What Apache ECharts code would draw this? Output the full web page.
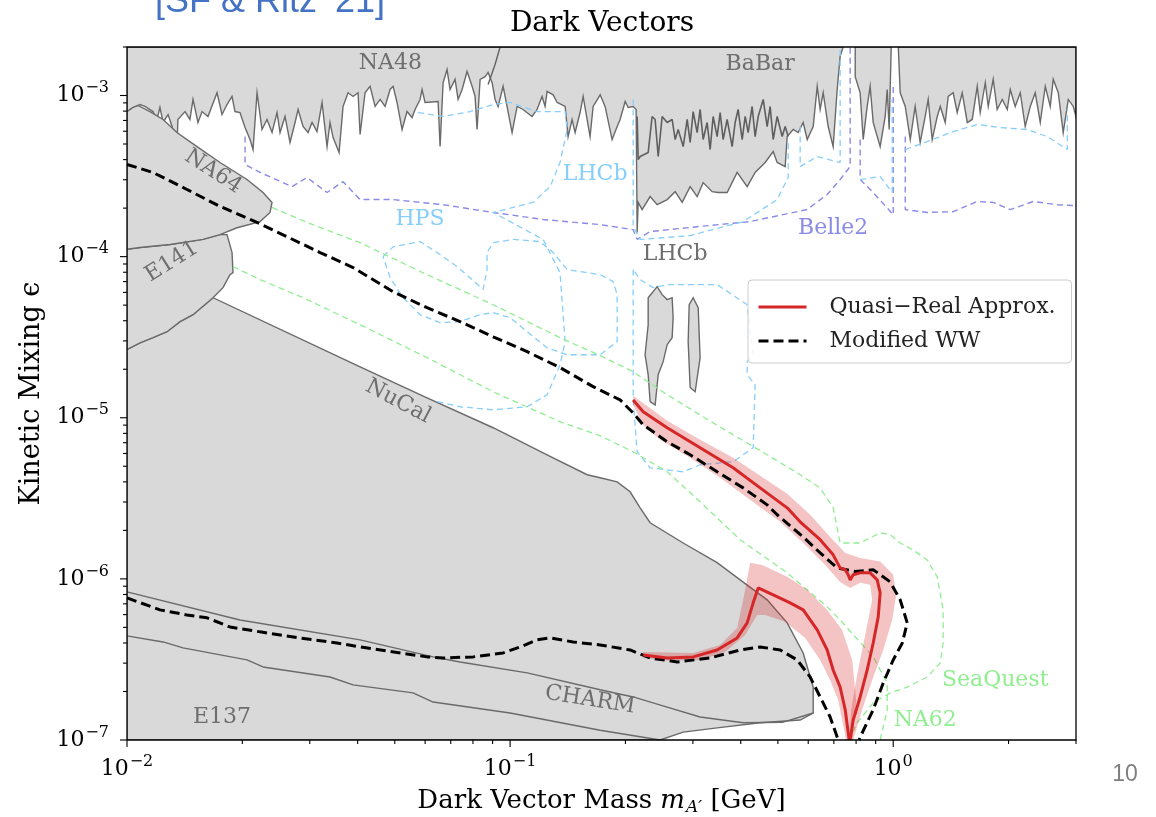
<!DOCTYPE html>
<html lang="en">
<head>
<meta charset="UTF-8">
<title>Dark Vectors</title>
<script src="https://cdn.jsdelivr.net/npm/echarts@6/dist/echarts.min.js"></script>
<style>
html, body { margin: 0; padding: 0; background: #fff; }
#chart { width: 1156px; height: 817px; }
</style>
</head>
<body>
<div id="chart"></div>
<script>
// ---- data: [mass GeV, epsilon] pairs ----
const xRange = [0.01, 3];
const yRange = [1e-7, 2e-3];
const xMajorTicks = [0.01, 0.1, 1];
const xMinorTicks = [0.02, 0.03, 0.04, 0.05, 0.06, 0.07, 0.08, 0.09, 0.2, 0.3, 0.4, 0.5, 0.6, 0.7, 0.8, 0.9, 2, 3];
const yMajorTicks = [1e-7, 1e-6, 1e-5, 1e-4, 1e-3];
const yMinorTicks = [2e-7, 3e-7, 4e-7, 5e-7, 6e-7, 7e-7, 8e-7, 9e-7, 2e-6, 3e-6, 4e-6, 5e-6, 6e-6, 7e-6, 8e-6, 9e-6,
  2e-5, 3e-5, 4e-5, 5e-5, 6e-5, 7e-5, 8e-5, 9e-5, 2e-4, 3e-4, 4e-4, 5e-4, 6e-4, 7e-4, 8e-4, 9e-4, 2e-3];

// NA48 / BaBar / KLOE ... upper excluded band
const topRegionA = [[0.01,2e-3],[0.01,5.56e-4],[0.01018,8.19e-4],[0.01081,8.79e-4],[0.01114,8.55e-4],[0.01169,7.95e-4],[0.01197,7.1e-4],[0.01219,8.43e-4],[0.01242,6.8e-4],[0.0128,7.62e-4],[0.01311,6.42e-4],[0.0135,4.75e-4],[0.01358,7.1e-4],[0.01417,7.95e-4],[0.0146,7.1e-4],[0.01487,9.45e-4],[0.01532,6.8e-4],[0.0157,7.95e-4],[0.01627,7.41e-4],[0.01718,1.04e-3],[0.0177,7.62e-4],[0.01824,8.79e-4],[0.0188,9.86e-4],[0.01914,7.95e-4],[0.01972,7.84e-4],[0.02033,6.33e-4],[0.02095,5.33e-4],[0.02133,4.62e-4],[0.02185,1.04e-3],[0.02251,6.15e-4],[0.0232,7.1e-4],[0.02391,5.89e-4],[0.02464,7.84e-4],[0.02509,5.89e-4],[0.02585,7.41e-4],[0.02664,5.11e-4],[0.02746,6.8e-4],[0.02796,8.19e-4],[0.02881,6.42e-4],[0.02969,5.89e-4],[0.03041,6.8e-4],[0.03133,5.97e-4],[0.03229,9.05e-4],[0.03328,4.82e-4],[0.03388,6.8e-4],[0.03451,5.48e-4],[0.03578,4.43e-4],[0.03664,8.55e-4],[0.03776,1.04e-3],[0.03891,9.86e-4],[0.0401,1.04e-3],[0.04059,5.73e-4],[0.04182,1.04e-3],[0.0431,1.14e-3],[0.04442,8.55e-4],[0.04578,9.45e-4],[0.04717,8.55e-4],[0.04861,1.09e-3],[0.0495,1.14e-3],[0.05068,9.05e-4],[0.05224,6.15e-4],[0.05382,7.95e-4],[0.05547,7.3e-4],[0.05649,8.19e-4],[0.05821,9.45e-4],[0.05891,1.09e-3],[0.05998,9.05e-4],[0.06487,9.18e-4],[0.06565,4.82e-4],[0.06685,1.2e-3],[0.06845,1.45e-3],[0.0697,1.09e-3],[0.07184,1.26e-3],[0.07315,9.45e-4],[0.07494,1.09e-3],[0.0772,1.41e-3],[0.07958,1.14e-3],[0.08102,9.86e-4],[0.08198,6.15e-4],[0.0835,1.26e-3],[0.08604,1.31e-3],[0.08761,1.39e-3],[0.08977,1.2e-3],[0.09138,9.45e-4],[0.09305,8.55e-4],[0.09588,1.14e-3],[0.09818,8.55e-4],[0.1012,5.89e-4],[0.1043,8.55e-4],[0.1081,8.19e-4],[0.1141,7.41e-4],[0.1176,8.19e-4],[0.1212,9.86e-4],[0.1234,8.55e-4],[0.1249,1.06e-3],[0.1295,1.01e-3],[0.1327,9.05e-4],[0.1392,8.55e-4],[0.1417,5.56e-4],[0.1451,7.1e-4],[0.1478,5.89e-4],[0.1523,7.84e-4],[0.1551,9.86e-4],[0.1617,5.56e-4],[0.1647,8.55e-4],[0.1718,1.01e-3],[0.177,8.55e-4],[0.1846,5.33e-4],[0.1903,6.42e-4],[0.1937,7.1e-4],[0.1997,9.18e-4],[0.2033,8.43e-4],[0.2095,8.55e-4],[0.2133,8.19e-4],[0.2146,1.41e-4],[0.2159,2.17e-4],[0.2211,1.96e-4],[0.232,2.36e-4],[0.242,2.1e-4],[0.257,2.26e-4],[0.2697,2.53e-4],[0.2813,2.17e-4],[0.2951,2.72e-4],[0.3078,2.36e-4],[0.3191,2.88e-4],[0.3368,2.53e-4],[0.3492,2.5e-4],[0.3686,2.5e-4],[0.3914,3.33e-4],[0.4157,2.72e-4],[0.4361,3.33e-4],[0.4632,3.84e-4],[0.4861,4.49e-4],[0.4979,3.84e-4],[0.5224,3.62e-4],[0.5287,5.56e-4],[0.5482,6.15e-4],[0.5649,5.89e-4],[0.5821,6.8e-4],[0.5964,5.33e-4],[0.6182,6.42e-4],[0.6333,1.14e-3],[0.6446,8.19e-4],[0.6565,1.04e-3],[0.6765,6.42e-4],[0.697,4.82e-4],[0.7141,1.09e-3],[0.7269,1.75e-3],[0.7402,2e-3]];
const topRegionB = [[0.7958,2e-3],[0.7958,1.31e-3],[0.8198,1.04e-3],[0.835,5.33e-4],[0.8552,8.55e-4],[0.8706,1.14e-3],[0.8866,6.8e-4],[0.9245,4.82e-4],[0.953,7.41e-4],[0.9645,1.09e-3],[0.976,6.15e-4],[0.9881,2e-3]];
const topRegionC = [[1.031,2e-3],[1.043,1.04e-3],[1.075,8.55e-4],[1.108,5.33e-4],[1.141,8.55e-4],[1.176,5.11e-4],[1.212,7.41e-4],[1.234,9.45e-4],[1.264,5.33e-4],[1.303,7.41e-4],[1.327,8.55e-4],[1.367,6.8e-4],[1.392,9.86e-4],[1.434,1.04e-3],[1.469,7.84e-4],[1.514,1.04e-3],[1.561,6.8e-4],[1.608,7.1e-4],[1.657,1.14e-3],[1.687,7.84e-4],[1.739,1.2e-3],[1.77,8.55e-4],[1.824,1.26e-3],[1.868,8.19e-4],[1.926,9.45e-4],[1.985,8.19e-4],[2.021,1.09e-3],[2.082,8.55e-4],[2.146,1.04e-3],[2.211,6.42e-4],[2.279,8.55e-4],[2.348,1.04e-3],[2.42,6.8e-4],[2.494,1.14e-3],[2.57,8.55e-4],[2.616,1.26e-3],[2.697,1.04e-3],[2.778,5.89e-4],[2.864,9.45e-4],[2.951,8.55e-4],[3,7.41e-4],[3,2e-3]];
const babarLine = [[0.2146,7.41e-4],[0.2159,4.0e-4],[0.2185,4.18e-4],[0.2293,4.43e-4],[0.2348,7.41e-4],[0.2391,7.1e-4],[0.2435,4.18e-4],[0.2494,7.41e-4],[0.257,6.8e-4],[0.2648,7.1e-4],[0.2697,5.33e-4],[0.2746,6.15e-4],[0.283,4.82e-4],[0.2899,7.1e-4],[0.2951,5.11e-4],[0.3005,7.95e-4],[0.3078,5.89e-4],[0.3133,8.19e-4],[0.3191,5.33e-4],[0.3268,6.8e-4],[0.3328,4.62e-4],[0.3388,7.41e-4],[0.3471,5.56e-4],[0.3534,7.84e-4],[0.3598,5.33e-4],[0.3686,7.1e-4],[0.3798,4.82e-4],[0.3867,6.8e-4],[0.3937,8.19e-4],[0.4034,5.33e-4],[0.4108,7.41e-4],[0.4182,5.89e-4],[0.4283,8.55e-4],[0.4361,5.56e-4],[0.4442,7.41e-4],[0.4578,9.45e-4],[0.4688,6.42e-4],[0.4773,8.55e-4],[0.4861,5.33e-4],[0.4979,7.41e-4],[0.513,5.56e-4],[0.5224,6.42e-4],[0.5319,5.56e-4]];
const na48Edge = [[0.08761,1.17e-3],[0.09138,1.56e-3],[0.09417,2e-3]];

// beam dump regions
const na64Region = [[0.01,7.95e-4],[0.01037,8.43e-4],[0.01068,8.67e-4],[0.01148,7.95e-4],[0.01242,7.1e-4],[0.0135,5.89e-4],[0.01523,4.82e-4],[0.01749,3.84e-4],[0.02057,3.01e-4],[0.02265,2.5e-4],[0.02391,2.17e-4],[0.02362,1.88e-4],[0.02225,1.65e-4],[0.01937,1.51e-4],[0.01749,1.37e-4],[0.01579,1.28e-4],[0.01295,1.19e-4],[0.01081,1.14e-4],[0.01,1.11e-4]];
const e141Region = [[0.01,1.11e-4],[0.01081,1.14e-4],[0.01295,1.19e-4],[0.01579,1.28e-4],[0.01749,1.37e-4],[0.01824,1.37e-4],[0.0188,1.06e-4],[0.01891,7.95e-5],[0.01857,7.73e-5],[0.01781,6.42e-5],[0.01677,5.56e-5],[0.01487,4.36e-5],[0.01375,3.95e-5],[0.01272,3.42e-5],[0.01169,3.14e-5],[0.01081,2.92e-5],[0.01,2.65e-5]];
const nucalRegion = [[0.01,2.65e-5],[0.01081,2.92e-5],[0.01169,3.14e-5],[0.01272,3.42e-5],[0.01375,3.95e-5],[0.01487,4.36e-5],[0.01677,5.56e-5],[0.04059,2.07e-5],[0.0607,1.33e-5],[0.0903,8.67e-6],[0.1249,5.89e-6],[0.1589,4.43e-6],[0.1718,4.24e-6],[0.1903,4.0e-6],[0.2057,3.47e-6],[0.2185,2.76e-6],[0.232,2.23e-6],[0.283,1.67e-6],[0.3471,1.26e-6],[0.3985,9.86e-7],[0.4688,7.41e-7],[0.5287,5.33e-7],[0.5821,3.47e-7],[0.6182,2.13e-7],[0.6182,1.47e-7],[0.5716,1.33e-7],[0.4494,1.28e-7],[0.3471,1.19e-7],[0.283,1.12e-7],[0.2464,1e-7],[0.01,1e-7]];
const e137Upper = [[0.01,8.31e-7],[0.01972,5.56e-7],[0.04059,4.18e-7],[0.06295,3.28e-7],[0.074,3.05e-7],[0.1108,2.61e-7],[0.1718,2.05e-7],[0.2095,1.85e-7],[0.257,1.6e-7],[0.3133,1.39e-7],[0.4059,1.28e-7],[0.5161,1.29e-7],[0.6182,1.47e-7]];
const e137Lower = [[0.01,4.43e-7],[0.01242,4.06e-7],[0.014,3.73e-7],[0.02057,3.14e-7],[0.02265,2.84e-7],[0.03388,2.46e-7],[0.03891,2.2e-7],[0.0558,1.96e-7],[0.06295,1.72e-7],[0.1,1.47e-7],[0.1718,1.15e-7],[0.2464,1e-7]];
const lhcbIsland1 = [[0.2293,5.56e-5],[0.242,6.51e-5],[0.2494,5.81e-5],[0.257,5.41e-5],[0.2648,5.56e-5],[0.2664,4.18e-5],[0.2648,3.14e-5],[0.257,2.84e-5],[0.2509,2.23e-5],[0.2435,1.85e-5],[0.2391,1.2e-5],[0.232,1.26e-5],[0.2293,1.85e-5],[0.2251,2.46e-5],[0.2293,3.78e-5]];
const lhcbIsland2 = [[0.3005,5.56e-5],[0.3097,4.82e-5],[0.3133,2.36e-5],[0.3041,1.45e-5],[0.2951,1.54e-5],[0.2916,2.97e-5],[0.2934,5.03e-5]];

// projections (dashed)
const belle2A = [[0.02033,5.56e-4],[0.02033,3.73e-4],[0.02225,3.33e-4],[0.02697,2.72e-4],[0.02951,3.1e-4],[0.03328,2.5e-4],[0.03664,2.92e-4],[0.04059,2.26e-4],[0.0495,2.26e-4],[0.06685,2.1e-4],[0.0903,1.88e-4],[0.1219,1.7e-4],[0.1718,1.58e-4],[0.2095,1.47e-4],[0.2146,1.28e-4],[0.232,1.43e-4],[0.3133,1.54e-4],[0.4232,1.65e-4],[0.5964,1.96e-4],[0.6725,2.43e-4],[0.7269,3.01e-4],[0.772,3.62e-4],[0.772,2e-3]];
const belle2B = [[0.8198,5.33e-4],[0.8198,3.01e-4],[0.8866,2.5e-4],[1.0,1.82e-4],[1.0,1.2e-3]];
const belle2C = [[1.075,5.56e-4],[1.075,1.96e-4],[1.227,1.88e-4],[1.434,1.9e-4],[1.657,2.2e-4],[1.824,2.17e-4],[2.021,1.96e-4],[2.32,2.2e-4],[2.68,2.1e-4],[3,2.07e-4]];
const lhcbTop = [[0.05752,7.84e-4],[0.06685,7.41e-4],[0.07861,7.95e-4],[0.0903,8.79e-4],[0.1,9.05e-4],[0.1176,7.95e-4],[0.1392,7.95e-4],[0.1409,6.15e-4],[0.135,3.84e-4],[0.1272,2.72e-4],[0.1148,2.17e-4],[0.0903,1.88e-4],[0.1219,1.28e-4],[0.135,7.95e-5],[0.1392,2.97e-5],[0.135,2.13e-5],[0.1249,1.39e-5],[0.1108,1.17e-5],[0.0903,1.12e-5],[0.074,1.17e-5],[0.06446,1.26e-5]];
const hpsLoop = [[0.04661,1e-4],[0.0495,1.15e-4],[0.05821,1.24e-4],[0.06446,1.06e-4],[0.07269,8.67e-5],[0.07958,7.2e-5],[0.08501,6.24e-5],[0.08706,8.31e-5],[0.08706,1.06e-4],[0.0903,1.22e-4],[0.1018,1.28e-4],[0.1197,1.24e-4],[0.1295,1.06e-4],[0.1409,8.31e-5],[0.1718,7.73e-5],[0.1857,7.0e-5],[0.1903,5.81e-5],[0.1903,2.97e-5],[0.1718,2.46e-5],[0.1409,2.46e-5],[0.1249,2.72e-5],[0.1108,3.42e-5],[0.1,4.18e-5],[0.0903,4.49e-5],[0.0835,4.36e-5],[0.074,3.95e-5],[0.06565,3.89e-5],[0.05821,4.36e-5],[0.05255,5.56e-5],[0.04861,7.41e-5],[0.04661,1e-4]];
const lhcbEdge1 = [[0.2095,9.45e-4],[0.2095,1.54e-4],[0.2185,1.28e-4],[0.2951,1.35e-4],[0.4059,1.65e-4],[0.4979,2.26e-4],[0.5319,3.1e-4],[0.5319,5.33e-4]];
const lhcbEdge2 = [[0.5716,6.42e-4],[0.5716,3.62e-4],[0.6333,4.18e-4],[0.7269,3.84e-4],[0.7269,2e-3]];
const lhcbEdge3 = [[0.8198,3.01e-4],[0.9245,3.14e-4],[0.994,2.5e-4],[0.994,9.45e-4]];
const lhcbEdge4 = [[1.075,4.62e-4],[1.227,5.18e-4],[1.434,5.97e-4],[1.657,6.61e-4],[1.903,6.33e-4],[2.238,6.15e-4],[2.524,5.56e-4],[2.848,4.62e-4],[2.848,8.19e-4]];
const lhcbDisplaced = [[0.2095,8.31e-5],[0.2095,1.29e-5],[0.2146,6.15e-6],[0.232,4.89e-6],[0.283,4.62e-6],[0.3133,5.11e-6],[0.3821,5.33e-6],[0.431,6.51e-6],[0.4361,1.6e-5],[0.4157,1.85e-5],[0.4157,2.23e-5],[0.431,2.46e-5],[0.4232,3.52e-5],[0.4157,5.03e-5],[0.3471,6.7e-5],[0.257,6.7e-5],[0.2362,6.42e-5],[0.2185,7.2e-5],[0.2095,8.31e-5]];
const seaQuest = [[0.02391,2.02e-4],[0.02951,1.63e-4],[0.04059,1.22e-4],[0.0607,7.73e-5],[0.0903,5.03e-5],[0.135,3.14e-5],[0.1718,2.43e-5],[0.2095,1.93e-5],[0.257,1.39e-5],[0.3133,1.04e-5],[0.3821,7.84e-6],[0.4688,5.89e-6],[0.5716,4.43e-6],[0.6446,3.67e-6],[0.697,2.76e-6],[0.7269,1.67e-6],[0.8198,1.67e-6],[0.9245,1.93e-6],[0.9818,1.88e-6],[1.043,1.67e-6],[1.128,1.51e-6],[1.227,1.31e-6],[1.303,1.03e-6],[1.35,6.42e-7],[1.35,4.0e-7],[1.327,3.01e-7],[1.227,2.46e-7],[1.088,2.13e-7],[0.9818,1.96e-7],[0.8866,1.7e-7],[0.8054,1.28e-7],[0.772,1.04e-7]];
const na62 = [[0.01891,8.67e-5],[0.02225,7.2e-5],[0.02881,5.56e-5],[0.04059,3.78e-5],[0.0607,2.36e-5],[0.0903,1.45e-5],[0.135,9.45e-6],[0.1718,7.73e-6],[0.2095,6.15e-6],[0.257,4.62e-6],[0.3133,3.01e-6],[0.3985,1.75e-6],[0.5287,1.09e-6],[0.6725,6.7e-7],[0.7269,5.56e-7],[0.8866,3.28e-7],[0.9645,2.26e-7],[0.9645,1.54e-7],[0.9245,1e-7]];

// this work
const wwUpper = [[0.01,3.73e-4],[0.01169,3.33e-4],[0.01434,2.61e-4],[0.01749,2.05e-4],[0.02185,1.63e-4],[0.02616,1.33e-4],[0.03191,1.06e-4],[0.03891,8.55e-5],[0.0495,6.06e-5],[0.0607,4.82e-5],[0.074,3.95e-5],[0.0903,3.18e-5],[0.1108,2.57e-5],[0.135,2.05e-5],[0.1647,1.56e-5],[0.1937,1.29e-5],[0.2095,1.07e-5],[0.2225,9.05e-6],[0.257,7.1e-6],[0.2951,5.89e-6],[0.3471,4.62e-6],[0.4059,3.67e-6],[0.4688,2.88e-6],[0.4979,2.5e-6],[0.5821,1.82e-6],[0.6446,1.45e-6],[0.7141,1.17e-6],[0.7958,1.11e-6],[0.8866,1.14e-6],[0.9818,9.58e-7],[1.043,7.41e-7],[1.088,5.33e-7],[1.056,4.0e-7],[1.0,3.14e-7],[0.9417,2.26e-7],[0.8866,1.54e-7],[0.8198,1.04e-7],[0.815,1e-7]];
const wwLower = [[0.01,7.62e-7],[0.01219,6.42e-7],[0.01434,5.97e-7],[0.01617,5.73e-7],[0.01857,5.03e-7],[0.02225,4.69e-7],[0.0283,4.3e-7],[0.03534,4.0e-7],[0.04059,3.78e-7],[0.0607,3.28e-7],[0.06685,3.23e-7],[0.08006,3.28e-7],[0.09588,3.47e-7],[0.1062,3.78e-7],[0.1176,4.18e-7],[0.1272,4.3e-7],[0.146,4.06e-7],[0.1718,3.89e-7],[0.2057,3.62e-7],[0.232,3.23e-7],[0.273,3.05e-7],[0.3328,3.23e-7],[0.3985,3.62e-7],[0.4494,3.78e-7],[0.5068,3.62e-7],[0.5615,3.14e-7],[0.607,2.46e-7],[0.6446,1.85e-7],[0.6845,1.39e-7],[0.7184,1e-7]];
const qrUpper = [[0.2095,1.29e-5],[0.2225,1.09e-5],[0.257,8.67e-6],[0.3133,6.51e-6],[0.3821,4.89e-6],[0.4494,3.67e-6],[0.5287,2.76e-6],[0.5716,2.26e-6],[0.6446,1.75e-6],[0.697,1.41e-6],[0.7269,1.17e-6],[0.7494,1.14e-6],[0.7629,1.06e-6],[0.772,9.86e-7],[0.7861,1.06e-6],[0.8198,1.09e-6],[0.8706,1.09e-6],[0.9083,9.86e-7],[0.9245,8.19e-7],[0.9138,5.81e-7],[0.8866,4.0e-7],[0.8552,2.72e-7],[0.8198,1.85e-7],[0.7861,1.33e-7],[0.772,1e-7]];
const qrLower = [[0.2225,3.37e-7],[0.257,3.23e-7],[0.3005,3.28e-7],[0.3471,3.62e-7],[0.3914,4.3e-7],[0.4157,5.33e-7],[0.431,7.1e-7],[0.4442,8.79e-7],[0.4861,7.95e-7],[0.5382,7.1e-7],[0.5821,6.42e-7],[0.6333,4.82e-7],[0.6725,3.62e-7],[0.697,2.72e-7],[0.7269,2.13e-7],[0.7494,1.54e-7],[0.7675,1e-7]];
const qrUpperBand = [[0.2095,1.37e-5],[0.257,9.58e-6],[0.3133,7.3e-6],[0.3821,5.64e-6],[0.4494,4.36e-6],[0.5287,3.37e-6],[0.607,2.5e-6],[0.6845,1.82e-6],[0.7494,1.45e-6],[0.8198,1.35e-6],[0.9245,1.28e-6],[1.0,1.06e-6],[1.018,7.95e-7],[0.994,5.56e-7],[0.9417,3.62e-7],[0.8813,2.36e-7],[0.8297,1.54e-7],[0.7861,1e-7],
  [0.7675,1e-7],[0.7767,1.54e-7],[0.8006,2.36e-7],[0.8297,3.62e-7],[0.8604,5.56e-7],[0.8813,7.41e-7],[0.8706,9.18e-7],[0.8198,9.45e-7],[0.772,8.79e-7],[0.7269,9.58e-7],[0.6644,1.22e-6],[0.5891,1.63e-6],[0.5068,2.26e-6],[0.4232,3.1e-6],[0.3534,4.24e-6],[0.2951,5.64e-6],[0.2464,7.3e-6],[0.2225,9.05e-6],[0.2095,1.2e-5]];
const qrLowerBand = [[0.2225,3.52e-7],[0.3005,3.47e-7],[0.3534,3.89e-7],[0.3914,4.96e-7],[0.4108,8.55e-7],[0.4232,1.26e-6],[0.4549,1.22e-6],[0.5287,1.03e-6],[0.5964,8.55e-7],[0.6725,6.42e-7],[0.7358,4.82e-7],[0.7814,3.14e-7],[0.8006,1.77e-7],[0.7814,1e-7],
  [0.7539,1e-7],[0.7184,1.77e-7],[0.6845,2.36e-7],[0.6446,3.14e-7],[0.5891,4.3e-7],[0.5224,5.41e-7],[0.4632,5.97e-7],[0.4414,5.97e-7],[0.4108,4.49e-7],[0.3642,3.52e-7],[0.3133,3.14e-7],[0.2616,3.1e-7],[0.2225,3.23e-7]];

// region names: [text, mass, epsilon]
const grayLabels = [['NA48',0.0487,1.58e-3],['BaBar',0.4494,1.56e-3],['NA64',0.01677,3.37e-4],['E141',0.0131,9.3e-5],['NuCal',0.051,1.26e-5],['CHARM',0.1617,1.77e-7],['E137',0.0177,1.39e-7],['LHCb',0.2697,1.03e-4]];
const blueLabels = [['LHCb',0.1667,3.23e-4],['HPS',0.05821,1.7e-4]];
const purpleLabels = [['Belle2',0.697,1.49e-4]];
const greenLabels = [['SeaQuest',1.846,2.36e-7],['NA62',1.212,1.33e-7]];
const labelAngles = { NA64: -33, E141: 32, NuCal: -28, CHARM: -9 };

// ---- styling ----
const FONT = '"DejaVu Serif", "Liberation Serif", serif';
const GRAY_FILL = '#d9d9d9';
const GRAY_EDGE = '#6a6a6a';
const RED = '#d62728';
const BAND = 'rgba(214,39,40,0.28)';
const BLUE = '#87cefa';
const PURPLE = '#8a8ae8';
const GREEN = '#90ee90';

function area(pts, fill, stroke, z) {
  return {
    type: 'custom', silent: true, clip: true, z: z,
    data: pts, encode: { x: 0, y: 1 },
    renderItem: function (params, api) {
      if (params.dataIndex !== 0) return null;
      return {
        type: 'polygon',
        shape: { points: pts.map(function (p) { return api.coord(p); }) },
        style: { fill: fill, stroke: stroke || null, lineWidth: 1.4 }
      };
    }
  };
}

function curve(name, pts, color, width, dash, z) {
  return {
    name: name, type: 'line', data: pts, symbol: 'none', silent: true, z: z,
    lineStyle: { color: color, width: width, type: dash || 'solid', cap: 'butt' },
    itemStyle: { color: color }
  };
}

function labels(list, color, z) {
  return {
    type: 'custom', silent: true, clip: true, z: z,
    data: list.map(function (l) { return [l[1], l[2]]; }), encode: { x: 0, y: 1 },
    renderItem: function (params, api) {
      const l = list[params.dataIndex];
      const p = api.coord([l[1], l[2]]);
      return {
        type: 'text', x: p[0], y: p[1],
        rotation: (labelAngles[l[0]] || 0) * Math.PI / 180,
        style: { text: l[0], fill: color, font: '22px ' + FONT, textAlign: 'center', textVerticalAlign: 'middle' }
      };
    }
  };
}

function expLabel(v) {
  const e = Math.log10(v);
  if (Math.abs(e - Math.round(e)) > 1e-6) return '';
  const r = Math.round(e);
  return '{b|10}{s|' + (r < 0 ? '\u2212' + (-r) : r) + '}';
}

const axisRich = {
  b: { fontFamily: FONT, fontSize: 22, color: '#000' },
  s: { fontFamily: FONT, fontSize: 16, color: '#000', padding: [0, 0, 15, 1] }
};

const chart = echarts.init(document.getElementById('chart'), null, { renderer: 'canvas' });

const frameSeries = {
  type: 'custom', silent: true, clip: false, z: 20,
  data: [[xRange[0], yRange[0]]], encode: { x: 0, y: 1 },
  renderItem: function (params, api) {
    const cs = params.coordSys;
    const bottom = cs.y + cs.height;
    const kids = [{
      type: 'rect', shape: { x: cs.x, y: cs.y, width: cs.width, height: cs.height },
      style: { fill: null, stroke: '#000', lineWidth: 1.3 }
    }];
    function xt(v, len) {
      const x = api.coord([v, yRange[0]])[0];
      kids.push({ type: 'line', shape: { x1: x, y1: bottom, x2: x, y2: bottom + len }, style: { stroke: '#000', lineWidth: 1.1 } });
    }
    function yt(v, len) {
      const y = api.coord([xRange[0], v])[1];
      kids.push({ type: 'line', shape: { x1: cs.x - len, y1: y, x2: cs.x, y2: y }, style: { stroke: '#000', lineWidth: 1.1 } });
    }
    xMajorTicks.forEach(function (v) { xt(v, 7); });
    xMinorTicks.forEach(function (v) { xt(v, 4); });
    yMajorTicks.forEach(function (v) { yt(v, 7); });
    yMinorTicks.forEach(function (v) { yt(v, 4); });
    return { type: 'group', children: kids };
  }
};

const option = {
  animation: false,
  backgroundColor: '#fff',
  grid: { left: 127, right: 80, top: 47, bottom: 77, outerBoundsMode: 'none' },
  xAxis: {
    type: 'log', logBase: 10, min: xRange[0], max: xRange[1],
    axisLine: { show: false }, axisTick: { show: false }, splitLine: { show: false },
    axisLabel: { formatter: expLabel, rich: axisRich, margin: 14 },
    name: '{n|Dark Vector Mass }{i|m}{s|A\u2032}{n| [GeV]}',
    nameLocation: 'middle', nameGap: 47,
    nameTextStyle: {
      rich: {
        n: { fontFamily: FONT, fontSize: 26, color: '#000' },
        i: { fontFamily: FONT, fontSize: 26, fontStyle: 'italic', color: '#000' },
        s: { fontFamily: FONT, fontSize: 17, fontStyle: 'italic', color: '#000', padding: [12, 0, 0, 1] }
      }
    }
  },
  yAxis: {
    type: 'log', logBase: 10, min: yRange[0], max: yRange[1],
    axisLine: { show: false }, axisTick: { show: false }, splitLine: { show: false },
    axisLabel: { formatter: expLabel, rich: axisRich, margin: 18 },
    name: 'Kinetic Mixing \u03f5', nameLocation: 'middle', nameGap: 82, nameRotate: 90,
    nameTextStyle: { fontFamily: FONT, fontSize: 27, color: '#000' }
  },
  legend: {
    data: ['Quasi\u2212Real Approx.', 'Modified WW'],
    left: 748, top: 280, orient: 'vertical', selectedMode: false,
    itemWidth: 48, itemHeight: 14, itemGap: 10,
    padding: [15, 16, 10, 9],
    itemStyle: { opacity: 0 },
    lineStyle: { width: 3 },
    backgroundColor: 'rgba(255,255,255,0.85)', borderColor: '#cccccc', borderWidth: 1, borderRadius: 4,
    textStyle: { fontFamily: FONT, fontSize: 22, color: '#222', lineHeight: 24, padding: [0, 0, 0, 18] }
  },
  graphic: [
    { type: 'text', x: 602, y: 24, style: { text: 'Dark Vectors', font: '28px ' + FONT, fill: '#000', textAlign: 'center', textVerticalAlign: 'middle' } },
    { type: 'text', x: 155, y: 20, style: { text: '[SF & Ritz \u201921]', font: '36px "Liberation Sans", "Open Sans", sans-serif', fill: '#4472c4', textAlign: 'left', textVerticalAlign: 'bottom' } },
    { type: 'text', x: 1125, y: 775, style: { text: '10', font: '23px "Liberation Sans", sans-serif', fill: '#7f7f7f', textAlign: 'center', textVerticalAlign: 'middle' } }
  ],
  series: [
    area(topRegionA, GRAY_FILL, GRAY_EDGE, 1),
    area(topRegionB, GRAY_FILL, GRAY_EDGE, 1),
    area(topRegionC, GRAY_FILL, GRAY_EDGE, 1),
    area(nucalRegion, GRAY_FILL, GRAY_EDGE, 1),
    area(e141Region, GRAY_FILL, GRAY_EDGE, 1),
    area(na64Region, GRAY_FILL, GRAY_EDGE, 1),
    area(lhcbIsland1, GRAY_FILL, GRAY_EDGE, 1),
    area(lhcbIsland2, GRAY_FILL, GRAY_EDGE, 1),
    curve('babar', babarLine, '#5f5f5f', 1.6, 'solid', 2),
    curve('na48', na48Edge, '#5f5f5f', 1.4, 'solid', 2),
    curve('e137a', e137Upper, GRAY_EDGE, 1.4, 'solid', 2),
    curve('e137b', e137Lower, GRAY_EDGE, 1.4, 'solid', 2),
    curve('belle2a', belle2A, PURPLE, 1.4, [6, 4], 3),
    curve('belle2b', belle2B, PURPLE, 1.4, [6, 4], 3),
    curve('belle2c', belle2C, PURPLE, 1.4, [6, 4], 3),
    curve('lhcb1', lhcbTop, BLUE, 1.3, [6, 4], 3),
    curve('hps', hpsLoop, BLUE, 1.3, [6, 4], 3),
    curve('lhcb2', lhcbEdge1, BLUE, 1.3, [6, 4], 3),
    curve('lhcb3', lhcbEdge2, BLUE, 1.3, [6, 4], 3),
    curve('lhcb4', lhcbEdge3, BLUE, 1.3, [6, 4], 3),
    curve('lhcb5', lhcbEdge4, BLUE, 1.3, [6, 4], 3),
    curve('lhcb6', lhcbDisplaced, BLUE, 1.3, [6, 4], 3),
    curve('seaquest', seaQuest, GREEN, 1.3, [6, 4], 3),
    curve('na62', na62, GREEN, 1.3, [6, 4], 3),
    labels(grayLabels, '#6e6e6e', 4),
    labels(blueLabels, BLUE, 4),
    labels(purpleLabels, PURPLE, 4),
    labels(greenLabels, GREEN, 4),
    area(qrUpperBand, BAND, null, 5),
    area(qrLowerBand, BAND, null, 5),
    curve('Modified WW', wwUpper, '#000', 3, [10, 5], 6),
    curve('Modified WW', wwLower, '#000', 3, [10, 5], 6),
    curve('Quasi\u2212Real Approx.', qrUpper, RED, 3, 'solid', 7),
    curve('Quasi\u2212Real Approx.', qrLower, RED, 3, 'solid', 7),
    frameSeries
  ]
};

chart.setOption(option);
</script>
</body>
</html>
